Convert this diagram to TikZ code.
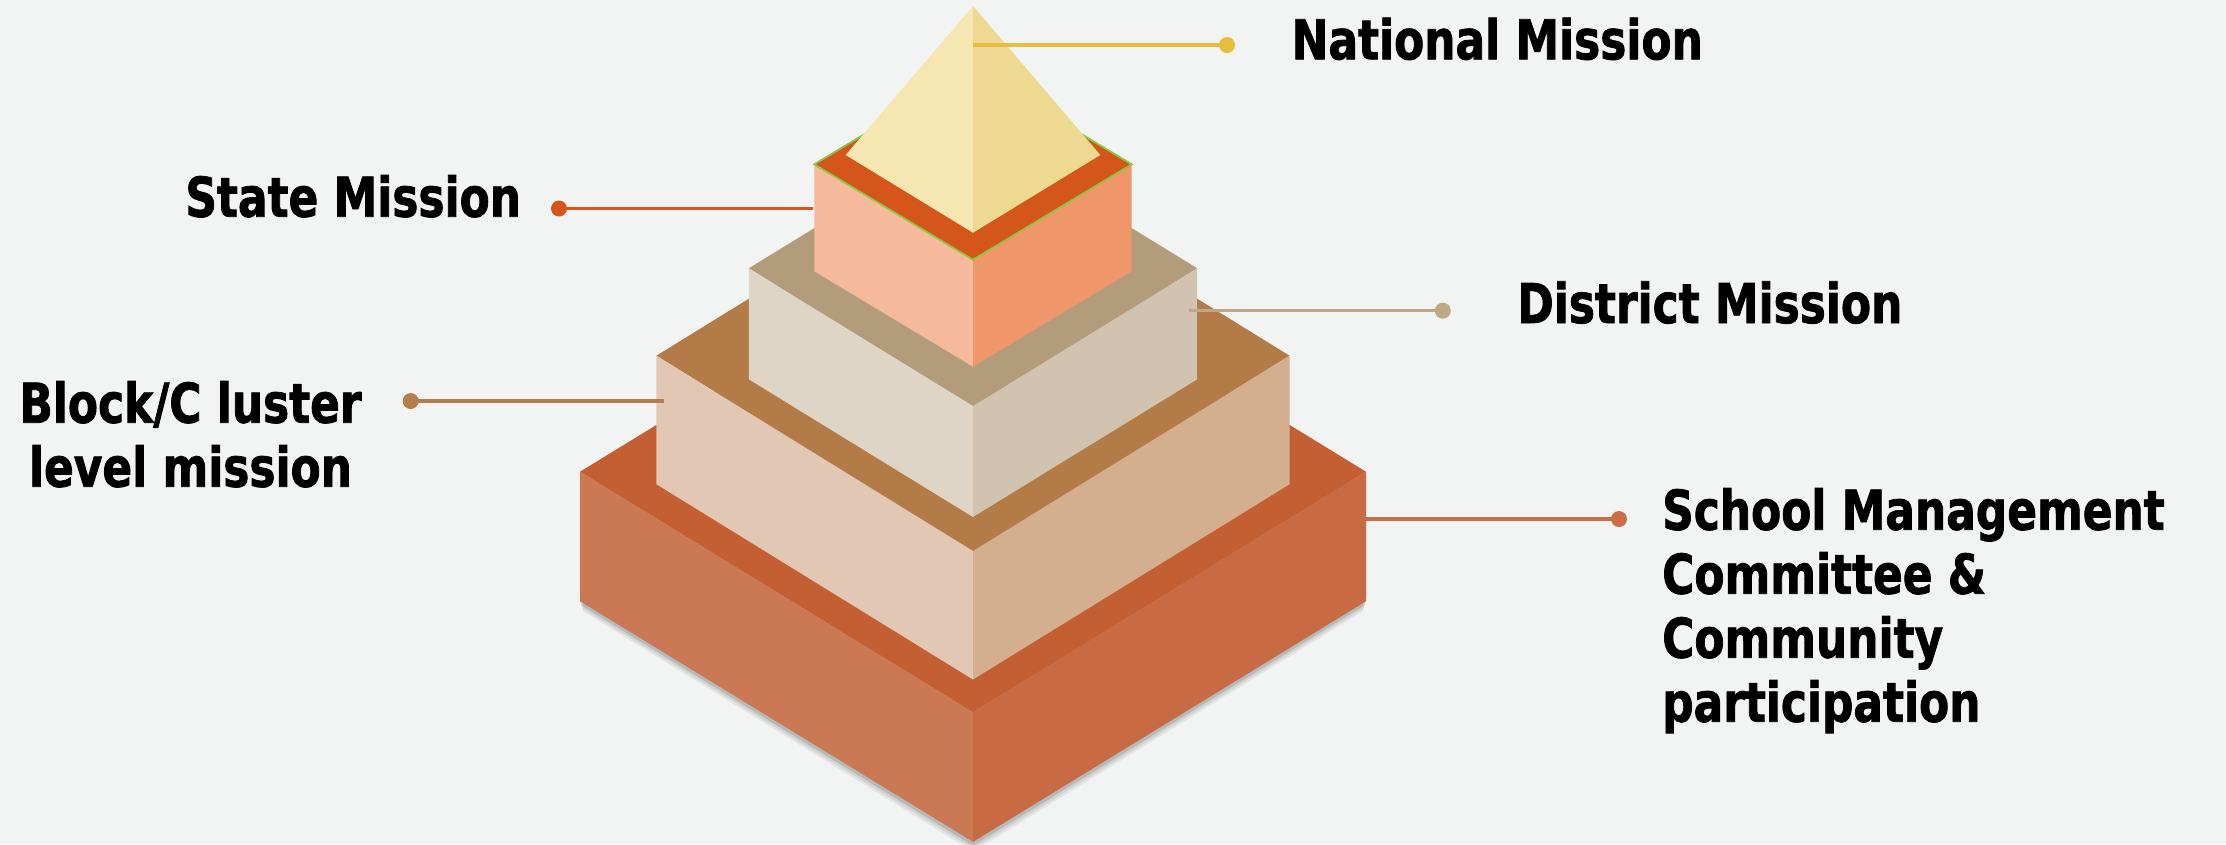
\documentclass[tikz,border=0pt]{standalone}
\usepackage{fontspec}
\setmainfont{DejaVu Sans}[FakeStretch=0.8, BoldFeatures={FakeBold=1.4}]
\definecolor{bg}{HTML}{F2F4F3}
\definecolor{natc}{HTML}{E5BF3C}
\definecolor{statec}{HTML}{D4561A}
\definecolor{distc}{HTML}{BFA888}
\definecolor{blockc}{HTML}{B57D4B}
\definecolor{schoolc}{HTML}{CB6D47}
\definecolor{greenedge}{HTML}{8DC63F}
% tier colours: top, left, right
\definecolor{baseT}{HTML}{C45F33}\definecolor{baseL}{HTML}{CB7854}\definecolor{baseR}{HTML}{C86A43}
\definecolor{blkT}{HTML}{B37B47}\definecolor{blkL}{HTML}{E2C8B4}\definecolor{blkR}{HTML}{D4AF8F}
\definecolor{disT}{HTML}{B39C7C}\definecolor{disL}{HTML}{DED5C7}\definecolor{disR}{HTML}{D1C3AF}
\definecolor{staT}{HTML}{D4561A}\definecolor{staL}{HTML}{F5B99B}\definecolor{staR}{HTML}{EF976A}
\definecolor{pyrL}{HTML}{F5E6B2}\definecolor{pyrR}{HTML}{EDD98F}
\newcommand\isotier[7]{%
  \fill[#5] (973-#1,#2) -- (973,#2-#3) -- (973+#1,#2) -- (973,#2+#3) -- cycle;
  \fill[#6] (973-#1,#2) -- (973,#2+#3) -- (973,#2+#3+#4) -- (973-#1,#2+#4) -- cycle;
  \fill[#7] (973,#2+#3) -- (973+#1,#2) -- (973+#1,#2+#4) -- (973,#2+#3+#4) -- cycle;}
\begin{document}
\begin{tikzpicture}[x=0.01cm,y=-0.01cm,
  lbl/.style={font=\fontsize{15.6pt}{18.2pt}\selectfont\bfseries, inner sep=0pt, anchor=base west, align=left},
  dotnode/.style={circle, fill=#1, minimum size=0.16cm, inner sep=0pt},
  conn/.style={line width=1pt, draw=#1}]
\fill[bg] (0,0) rectangle (2226,844);
\useasboundingbox (0,0) rectangle (2226,844);
% shadow under the base
\foreach \s/\o in {10/0.06,7/0.08,4/0.12}{
  \fill[black,opacity=\o] (580+\s*0.3,471.7+\s) -- (580+\s*0.3,601.2+\s) -- (973,841.8+\s) -- (1366-\s*0.3,601.2+\s) -- (1366-\s*0.3,471.7+\s) -- cycle;}
% tiers
\isotier{393}{471.7}{240.6}{129.5}{baseT}{baseL}{baseR}
\isotier{316.6}{355.7}{195.3}{128.5}{blkT}{blkL}{blkR}
\isotier{224.2}{268.3}{137.7}{111}{disT}{disL}{disR}
\isotier{158.7}{164.3}{95.4}{107}{staT}{staL}{staR}
\draw[greenedge,line width=0.5pt,line join=miter] (814.3,164.3) -- (973,68.9) -- (1131.7,164.3) -- (973,259.7) -- cycle;
% pyramid
\fill[pyrL] (973,6) -- (845.7,155) -- (973,232.7) -- cycle;
\fill[pyrR] (973,6) -- (973,232.7) -- (1100.3,155) -- cycle;
% connectors
\coordinate (natA) at (973,45);
\node[dotnode=natc] (natD) at (1227,45) {};
\draw[conn=natc] (natA) -- (natD.center);
\coordinate (staA) at (813,208.5);
\node[dotnode=statec] (staD) at (559,208.5) {};
\draw[conn=statec] (staA) -- (staD.center);
\coordinate (disA) at (1189,310.7);
\node[dotnode=distc] (disD) at (1442.8,310.7) {};
\draw[conn=distc] (disA) -- (disD.center);
\coordinate (blkA) at (664,401);
\node[dotnode=blockc] (blkD) at (410.7,401) {};
\draw[conn=blockc] (blkA) -- (blkD.center);
\coordinate (schA) at (1366,519);
\node[dotnode=schoolc] (schD) at (1619,519) {};
\draw[conn=schoolc] (schA) -- (schD.center);
% labels
\node[lbl] (natL) at (1291,59.3) {National Mission};
\node[lbl] (staL) at (184.7,216.7) {State Mission};
\node[lbl] (disL) at (1516.7,323) {District Mission};
\node[lbl,anchor=base,align=center] (blkL) at (190.5,486.7) {Block/C luster\\level mission};
\node[lbl] (schL) at (1661.5,721.7) {School Management\\Committee \&\\Community\\participation};
\end{tikzpicture}
\end{document}
